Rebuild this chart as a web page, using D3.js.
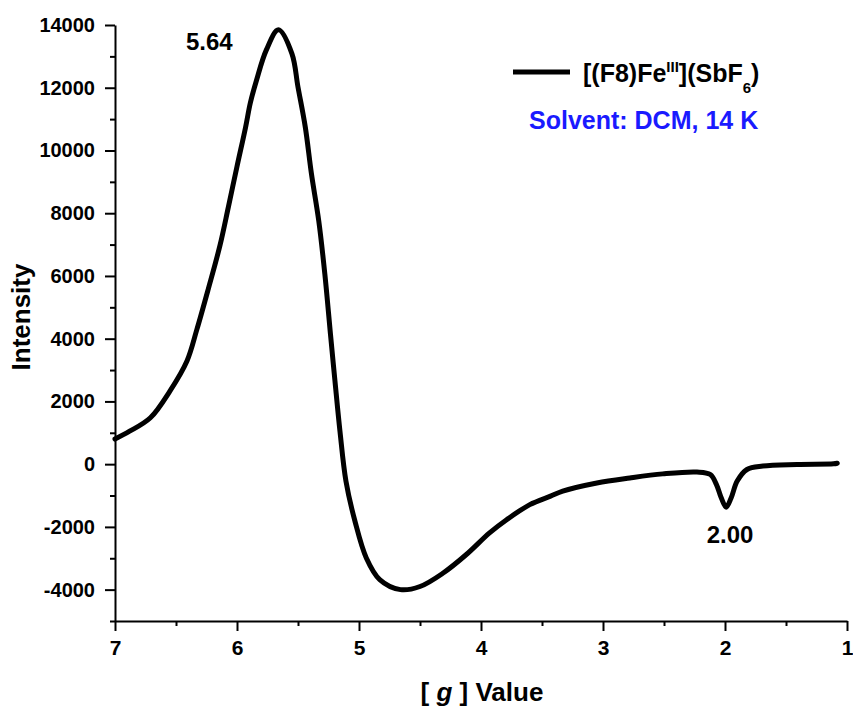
<!DOCTYPE html>
<html>
<head>
<meta charset="utf-8">
<script src="https://cdn.jsdelivr.net/npm/d3@7"></script>
<style>
  body { margin: 0; background: #fff; }
  svg { display: block; font-family: "Liberation Sans", Arial, sans-serif; font-weight: bold; }
</style>
</head>
<body>
<svg id="chart"></svg>
<script>
// g value (x, reversed axis) and EPR intensity
const gValues = [7.00, 6.88, 6.71, 6.55, 6.41, 6.33, 6.235, 6.14, 6.07, 6.00, 5.93, 5.89, 5.84, 5.76, 5.66,
  5.55, 5.50, 5.44, 5.39, 5.33, 5.28, 5.234, 5.197, 5.156, 5.107, 5.033, 4.94, 4.83, 4.66, 4.50, 4.31, 4.12,
  3.93, 3.79, 3.60, 3.43, 3.33, 3.05, 2.78, 2.51, 2.23, 2.12, 2.07, 2.03, 1.99, 1.95, 1.90, 1.82,
  1.69, 1.41, 1.11, 1.08];
const intensity = [800, 1050, 1480, 2330, 3290, 4280, 5590, 6965, 8210, 9490, 10735, 11530, 12240, 13200, 13850,
  13090, 12020, 10740, 9260, 7760, 6060, 4150, 2650, 1050, -540, -1820, -2990, -3680, -4000, -3900, -3470, -2880,
  -2190, -1770, -1290, -1020, -860, -600, -440, -310, -250, -330, -650, -1080, -1370, -1080, -540, -170,
  -60, -10, 10, 30];

const xTicks = [7, 6, 5, 4, 3, 2, 1];
const xMinor = [6.5, 5.5, 4.5, 3.5, 2.5, 1.5];
const yTicks = [-4000, -2000, 0, 2000, 4000, 6000, 8000, 10000, 12000, 14000];
const yMinor = [-5000, -3000, -1000, 1000, 3000, 5000, 7000, 9000, 11000, 13000];

const seriesName = "[(F8)Fe";
const peakLabels = [{g: 5.64, text: "5.64"}, {g: 2.00, text: "2.00"}];

const width = 853, height = 708;
const margin = {left: 115, top: 25, right: 6, bottom: 87};

const svg = d3.select("#chart").attr("width", width).attr("height", height);

const x = d3.scaleLinear().domain([7, 1]).range([margin.left, width - margin.right]);
const y = d3.scaleLinear().domain([-5000, 14000]).range([height - margin.bottom, margin.top]);

const fmt = d => String(d);

// axes
const xAxis = svg.append("g")
  .attr("transform", `translate(0,${y(-5000)})`)
  .call(d3.axisBottom(x).tickValues(xTicks).tickFormat(fmt).tickSize(10).tickSizeOuter(0).tickPadding(9));
svg.append("g")
  .attr("transform", `translate(0,${y(-5000)})`)
  .call(d3.axisBottom(x).tickValues(xMinor).tickFormat("").tickSize(5).tickSizeOuter(0))
  .select(".domain").remove();

const yAxis = svg.append("g")
  .attr("transform", `translate(${x(7)},0)`)
  .call(d3.axisLeft(y).tickValues(yTicks).tickFormat(fmt).tickSize(10).tickSizeOuter(0).tickPadding(10));
svg.append("g")
  .attr("transform", `translate(${x(7)},0)`)
  .call(d3.axisLeft(y).tickValues(yMinor).tickFormat("").tickSize(5).tickSizeOuter(0))
  .select(".domain").remove();

svg.selectAll(".domain, .tick line").attr("stroke", "#000").attr("stroke-width", 2);
xAxis.selectAll("text").attr("font-size", 21).attr("fill", "#000");
yAxis.selectAll("text").attr("font-size", 20).attr("fill", "#000");

// axis titles
svg.append("text")
  .attr("transform", `translate(30,317) rotate(-90)`)
  .attr("text-anchor", "middle")
  .attr("font-size", 26)
  .text("Intensity");

const xt = svg.append("text")
  .attr("x", 482).attr("y", 701)
  .attr("text-anchor", "middle")
  .attr("font-size", 26);
xt.append("tspan").text("[ ");
xt.append("tspan").attr("font-style", "italic").text("g");
xt.append("tspan").text(" ] Value");

// curve
const pts = gValues.map((g, i) => [g, intensity[i]]);
const line = d3.line()
  .x(d => x(d[0]))
  .y(d => y(d[1]))
  .curve(d3.curveCatmullRom.alpha(0.5));

svg.append("path")
  .datum(pts)
  .attr("fill", "none")
  .attr("stroke", "#000")
  .attr("stroke-width", 5)
  .attr("stroke-linejoin", "round")
  .attr("stroke-linecap", "round")
  .attr("d", line);

// peak labels
svg.append("text").attr("x", 186).attr("y", 50).attr("font-size", 24).text(peakLabels[0].text);
svg.append("text").attr("x", x(peakLabels[1].g) + 5).attr("y", 543).attr("text-anchor", "middle")
  .attr("font-size", 24).text(peakLabels[1].text);

// legend
svg.append("line")
  .attr("x1", 513).attr("x2", 570).attr("y1", 72).attr("y2", 72)
  .attr("stroke", "#000").attr("stroke-width", 5);
const lt = svg.append("text").attr("x", 583).attr("y", 82).attr("font-size", 25);
lt.append("tspan").text(seriesName);
lt.append("tspan").attr("font-size", 15).attr("dy", -10).text("III");
lt.append("tspan").attr("dy", 10).text("](SbF");
lt.append("tspan").attr("font-size", 15).attr("dy", 11).text("6");
lt.append("tspan").attr("dy", -11).text(")");

svg.append("text")
  .attr("x", 529).attr("y", 129)
  .attr("font-size", 25)
  .attr("fill", "#1a1aff")
  .text("Solvent: DCM, 14 K");
</script>
</body>
</html>
